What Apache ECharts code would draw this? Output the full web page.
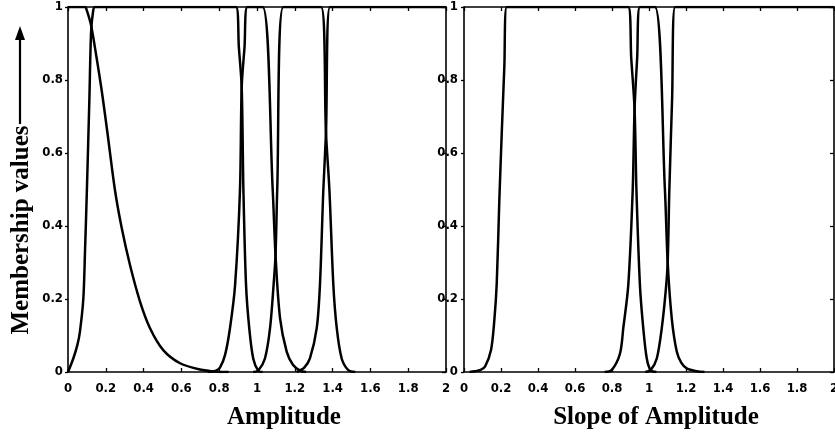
<!DOCTYPE html>
<html>
<head>
<meta charset="utf-8">
<script src="https://cdn.jsdelivr.net/npm/echarts@6/dist/echarts.min.js"></script>
<style>
html,body{margin:0;padding:0;background:#fff;}
#chart{width:835px;height:438px;}
</style>
</head>
<body>
<div id="chart"></div>
<script>
// ---- data ----
const xTicks = [0, 0.2, 0.4, 0.6, 0.8, 1, 1.2, 1.4, 1.6, 1.8, 2];
const yTicks = [0, 0.2, 0.4, 0.6, 0.8, 1];
const yTitle = 'Membership values';
const leftTitle = 'Amplitude';
const rightTitle = 'Slope of Amplitude';

// Amplitude panel membership functions [x, membership]
const ampSet1 = [[0,1],[0.09,1],[0.1,0.99],[0.122,0.95],[0.15,0.865],[0.18,0.765],[0.21,0.65],[0.248,0.5],[0.284,0.395],[0.328,0.293],[0.381,0.193],[0.434,0.12],[0.504,0.06],[0.593,0.024],[0.698,0.007],[0.787,0.001],[0.85,0]];
const ampSet2 = [[0,0],[0.028,0.037],[0.05,0.075],[0.063,0.11],[0.081,0.2],[0.09,0.33],[0.1,0.5],[0.113,0.745],[0.122,0.93],[0.132,0.985],[0.143,1],[0.889,1],[0.904,0.89],[0.919,0.78],[0.928,0.5],[0.942,0.238],[0.959,0.12],[0.98,0.037],[1.007,0.003],[1.03,0]];
const ampSet3 = [[0.74,0],[0.78,0.003],[0.804,0.012],[0.831,0.047],[0.857,0.12],[0.884,0.238],[0.91,0.5],[0.919,0.78],[0.934,0.89],[0.949,1],[1.03,1],[1.083,0.5],[1.098,0.32],[1.122,0.147],[1.157,0.056],[1.19,0.02],[1.228,0.004],[1.26,0]];
const ampSet4 = [[0.98,0],[1.007,0.004],[1.042,0.037],[1.069,0.12],[1.088,0.24],[1.098,0.32],[1.107,0.5],[1.139,1],[1.339,1],[1.365,0.655],[1.383,0.5],[1.404,0.238],[1.422,0.12],[1.448,0.037],[1.483,0.005],[1.52,0]];
const ampSet5 = [[1.21,0],[1.25,0.012],[1.28,0.037],[1.316,0.12],[1.333,0.238],[1.351,0.5],[1.365,0.655],[1.386,1],[2,1]];

// Slope-of-amplitude panel membership functions [x, membership]
const slopeSet1 = [[0.03,0],[0.059,0.002],[0.09,0.006],[0.114,0.015],[0.146,0.06],[0.164,0.142],[0.177,0.243],[0.191,0.471],[0.204,0.654],[0.218,0.836],[0.231,1],[0.888,1],[0.904,0.86],[0.922,0.72],[0.932,0.5],[0.951,0.238],[0.969,0.12],[0.988,0.037],[1.009,0.005],[1.04,0]];
const slopeSet2 = [[0.76,0],[0.798,0.005],[0.843,0.05],[0.861,0.12],[0.888,0.238],[0.912,0.5],[0.922,0.72],[0.936,0.86],[0.951,1],[1.032,1],[1.086,0.5],[1.101,0.3],[1.123,0.147],[1.15,0.056],[1.175,0.025],[1.204,0.01],[1.258,0.002],[1.3,0]];
const slopeSet3 = [[0.98,0],[1.009,0.005],[1.042,0.037],[1.069,0.12],[1.09,0.22],[1.101,0.3],[1.11,0.5],[1.125,0.75],[1.141,1],[2,1]];

// ---- chart ----
const tickFont = {fontFamily: "'Liberation Sans Narrow','DejaVu Sans Condensed','Liberation Sans',sans-serif", fontWeight: 'bold', fontSize: 13, color: '#000'};
const serif = '"Liberation Serif","Times New Roman",serif';
const axisLine = {show: true, onZero: false, lineStyle: {color: '#000', width: 1.6}};

function xAx(grid, pos, labels) {
  return {type: 'value', gridIndex: grid, position: pos, min: xTicks[0], max: xTicks[xTicks.length-1], interval: 0.2,
    axisLine: axisLine, splitLine: {show: false},
    axisTick: {show: true, inside: true, length: 4, lineStyle: {color: '#000', width: 1.3}},
    axisLabel: labels ? Object.assign({show: true, margin: 10, showMinLabel: true, showMaxLabel: true, hideOverlap: false}, tickFont) : {show: false}};
}
function yAx(grid, pos, labels, margin) {
  return {type: 'value', gridIndex: grid, position: pos, min: yTicks[0], max: yTicks[yTicks.length-1], interval: 0.2,
    axisLine: axisLine, splitLine: {show: false},
    axisTick: {show: true, inside: pos === 'right', length: pos === 'right' ? 4 : 3, lineStyle: {color: '#000', width: 1.3}},
    axisLabel: labels ? Object.assign({show: true, margin: margin}, tickFont) : {show: false}};
}
function ser(data, xi, yi) {
  return {type: 'line', data: data, xAxisIndex: xi, yAxisIndex: yi, showSymbol: false, symbol: 'none',
    smooth: 0.3, clip: true, lineStyle: {color: '#000', width: 2.5, join: 'round'}, silent: true, animation: false};
}

const chart = echarts.init(document.getElementById('chart'), null, {renderer: 'canvas'});
chart.setOption({
  backgroundColor: '#fff',
  animation: false,
  grid: [
    {left: 68, width: 378, top: 7, height: 365, containLabel: false, outerBoundsMode: 'none'},
    {left: 464, width: 370, top: 7, height: 365, containLabel: false, outerBoundsMode: 'none'}
  ],
  xAxis: [xAx(0, 'bottom', true), xAx(0, 'top', false), xAx(1, 'bottom', true), xAx(1, 'top', false)],
  yAxis: [yAx(0, 'left', true, 5), yAx(0, 'right', false), yAx(1, 'left', true, 6), yAx(1, 'right', false)],
  series: [
    ser(ampSet1, 0, 0), ser(ampSet2, 0, 0), ser(ampSet3, 0, 0), ser(ampSet4, 0, 0), ser(ampSet5, 0, 0),
    ser(slopeSet1, 2, 2), ser(slopeSet2, 2, 2), ser(slopeSet3, 2, 2)
  ],
  graphic: [
    {type: 'text', x: 22, y: 230, rotation: Math.PI / 2,
      style: {text: yTitle, font: 'bold 25px ' + serif, fill: '#000', align: 'center', verticalAlign: 'middle'}},
    {type: 'line', shape: {x1: 20, y1: 124, x2: 20, y2: 38}, style: {stroke: '#000', lineWidth: 2.2}},
    {type: 'polygon', shape: {points: [[20, 26], [15, 40], [25, 40]]}, style: {fill: '#000'}},
    {type: 'text', x: 284, y: 418,
      style: {text: leftTitle, font: 'bold 25px ' + serif, fill: '#000', align: 'center', verticalAlign: 'middle'}},
    {type: 'text', x: 656, y: 418,
      style: {text: rightTitle, font: 'bold 25px ' + serif, fill: '#000', align: 'center', verticalAlign: 'middle'}}
  ]
});
</script>
</body>
</html>
